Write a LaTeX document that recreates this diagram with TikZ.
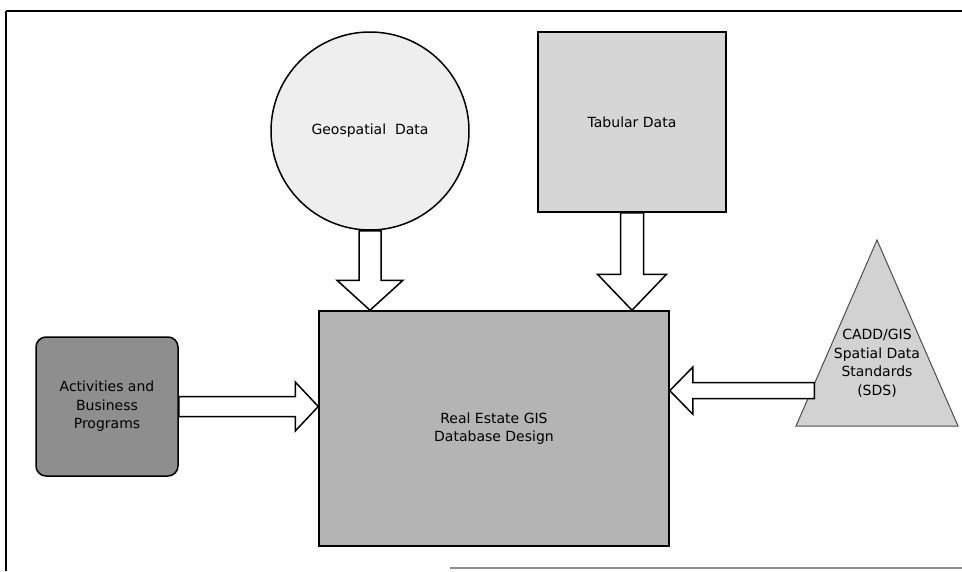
\documentclass[tikz,border=0pt]{standalone}
\usepackage{fontspec}
\setmainfont{DejaVu Sans}
\usetikzlibrary{calc}
\definecolor{geofill}{HTML}{EEEEEE}
\definecolor{tabfill}{HTML}{D6D6D6}
\definecolor{mainfill}{HTML}{B4B4B4}
\definecolor{actfill}{HTML}{8E8E8E}
\definecolor{trifill}{HTML}{D2D2D2}
\newcommand\blockarr[5]{%
  \coordinate (ba-h) at ($(#2)!#5!(#1)$);
  \draw[blockarrow] ($(#1)!#3!90:(#2)$) -- ($(ba-h)!#3!90:(#2)$) -- ($(ba-h)!#4!90:(#2)$)
    -- (#2) -- ($(ba-h)!#4!-90:(#2)$) -- ($(ba-h)!#3!-90:(#2)$) -- ($(#1)!#3!-90:(#2)$) -- cycle;}
\begin{document}
\begin{tikzpicture}[x=1pt,y=-1pt,
  lbl/.style={font=\fontsize{14}{18.5}\selectfont, align=center, text=black},
  shapebox/.style={draw=black, line width=1.5pt, lbl, inner sep=0pt},
  blockarrow/.style={draw=black, fill=white, line width=1.5pt, line join=miter}]
\useasboundingbox (0,0) rectangle (962,571);
\fill[white] (0,0) rectangle (962,571);
% frame
\draw[line width=2pt] (6,11) -- (962,11);
\draw[line width=1.5pt] (6,11) -- (6,571);
\draw[line width=1.5pt, black!45] (450,568) -- (962,568);
% nodes
\node[shapebox, circle, fill=geofill, minimum size=198pt] (geo) at (370,131) {Geospatial\ \ Data};
\node[shapebox, rectangle, fill=tabfill, minimum width=188pt, minimum height=180pt] (tab) at (632,122) {Tabular Data};
\node[shapebox, rectangle, fill=mainfill, minimum width=350pt, minimum height=235pt] (main) at (494,428.5) {Real Estate GIS\\Database Design};
\node[shapebox, rectangle, rounded corners=10pt, fill=actfill, minimum width=142pt, minimum height=139pt] (act) at (107,406.5) {Activities and\\Business\\Programs};
\coordinate (tA) at (877,240);
\coordinate (tL) at (796,426);
\coordinate (tR) at (958,426);
\draw[fill=trifill, draw=black!70, line width=1pt] (tA) -- (tL) -- (tR) -- cycle;
\node[lbl] (sds) at (877,363) {CADD/GIS\\Spatial Data\\Standards\\(SDS)};
% connector end points
\coordinate (geoTip) at (geo.south |- main.north);
\coordinate (tabTip) at (tab.south |- main.north);
\coordinate (actTip) at (act.east -| main.west);
\coordinate (sdsIn) at ($(tA)!0.81!(tL) + (3,0)$);
\coordinate (sdsTip) at (sdsIn -| main.east);
% block arrows
\blockarr{geo.south}{geoTip}{11pt}{33pt}{30pt}
\blockarr{tab.south}{tabTip}{11.5pt}{34.5pt}{36pt}
\blockarr{act.east}{actTip}{10pt}{24.5pt}{23pt}
\blockarr{sdsIn}{sdsTip}{8pt}{23.5pt}{23pt}
\end{tikzpicture}
\end{document}
